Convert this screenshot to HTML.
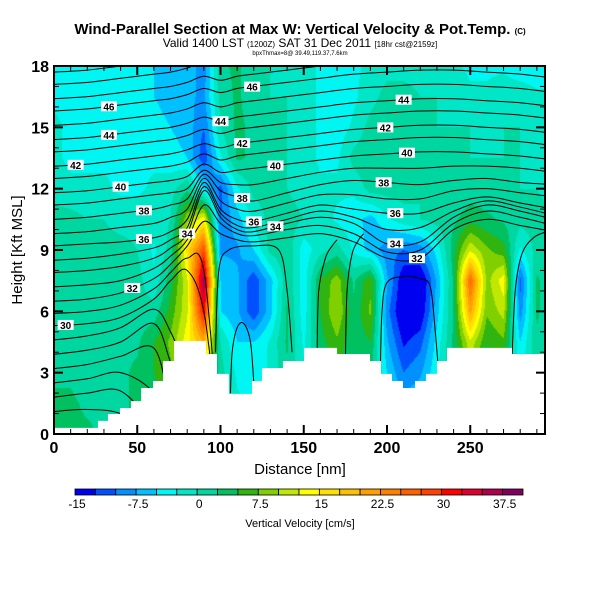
<!DOCTYPE html>
<html><head><meta charset="utf-8"><style>
body{margin:0;background:#fff;width:600px;height:600px;overflow:hidden;font-family:"Liberation Sans",sans-serif}
#wrap{position:relative;width:600px;height:600px}
canvas{position:absolute;left:54px;top:66px}
svg{position:absolute;left:0;top:0}
</style></head><body><div id="wrap">
<canvas id="field" width="491" height="368"></canvas>
<svg id="svg" width="600" height="600">
<text x="300" y="34" text-anchor="middle" font-size="15" font-weight="bold">Wind-Parallel Section at Max W: Vertical Velocity &amp; Pot.Temp. <tspan font-size="8">(C)</tspan></text>
<text x="300" y="47" text-anchor="middle" font-size="12">Valid 1400 LST <tspan font-size="8">(1200Z)</tspan> SAT 31 Dec 2011 <tspan font-size="8">[18hr cst@2159z]</tspan></text>
<text x="300" y="55" text-anchor="middle" font-size="6">bpxThmax=8@ 39.49,119.37,7.6km</text>
<text x="300" y="474" text-anchor="middle" font-size="15">Distance [nm]</text>
<text transform="translate(22,250) rotate(-90)" text-anchor="middle" font-size="15">Height [Kft MSL]</text>
<text x="300" y="527" text-anchor="middle" font-size="11">Vertical Velocity [cm/s]</text>
</svg></div>
<script>
// ---- data ----
const wDist=[0,10,20,30,40,50,60,70,80,90,100,110,120,130,140,150,160,170,180,190,200,210,220,230,240,250,260,270,280,290,300];
const wHeights=[18,16.5,15,13.5,12,10.5,9,7.5,6,4.5,3,1.5,0];
const wRow18 =[-3,-3,-3,-3,-3,-4,-5,-6,-6,-9,2,3,1,0,-1,-1,-3,-4,-3,-2,-1,-1,-1,-1,-2,-3,-3,-3,-4,-4,-4];
const wRow165=[-3,-3,-3,-3,-3,-4,-5,-6,-7,-8,1,3,1,0,0,-1,-3,-4,-3,-1,1,1,0,0,-1,-2,-2,-1,-1,-2,-2];
const wRow15 =[-2,-3,-3,-3,-3,-4,-4,-5,-6,-10,0,3,2,1,0,-1,-3,-4,-2,1,2,2,1,0,0,0,-1,0,0,-1,-1];
const wRow135=[-2,-3,-3,-3,-3,-3,-3,-4,-5,-12,-3,3,2,1,0,-1,-3,-3,1,2,2,1,1,0,0,0,0,0,0,-1,-1];
const wRow12 =[-1,-2,-2,-2,-3,-3,-2,-1,2,-5,-11,-3,1,1,0,-1,-2,-2,-2,1,1,1,0,0,0,1,1,1,0,0,-1];
const wRow105=[1,1,0,0,-1,-1,-1,0,9,14,-10,-6,-2,1,1,0,-1,-3,-4,-6,-3,-1,0,1,2,4,3,2,1,1,0];
const wRow9  =[1,1,1,1,1,0,-3,1,16,28,-8,-8,-5,1,2,-4,-1,1,-3,-6,-9,-10,-9,-4,4,12,8,6,-3,1,0];
const wRow75 =[1,1,1,1,1,1,-2,4,12,38,-5,-7,-12,-6,2,-4,5,9,2,7,-7,-15,-16,-7,3,26,9,14,-11,3,0];
const wRow6  =[1,1,1,1,1,1,1,6,12,32,-5,-7,-12,-6,3,-4,5,10,3,8,-9,-16,-15,-6,3,21,8,11,-9,3,0];
const wRow45 =[1,1,1,1,2,2,5,8,14,20,0,-5,-5,-2,3,-3,4,7,3,5,-7,-13,-11,-4,3,12,5,7,-5,2,0];
const wRow3  =[2,2,1,1,2,3,5,7,10,12,1,-3,-4,-2,2,-2,3,5,2,3,-5,-10,-8,-3,3,8,4,5,-3,1,0];
const wRow15b=[3,3,2,2,2,3,4,6,8,8,2,-2,-3,-1,1,-1,2,3,2,2,-4,-6,-5,-2,2,5,3,3,-2,1,0];
const wRow0  =[3,3,3,2,2,3,4,5,6,6,2,-1,-2,-1,1,-1,1,2,1,1,-2,-4,-3,-1,1,3,2,2,-1,0,0];
const wRows=[wRow18,wRow165,wRow15,wRow135,wRow12,wRow105,wRow9,wRow75,wRow6,wRow45,wRow3,wRow15b,wRow0];

const cbLevels=[-15,-12.5,-10,-7.5,-5,-2.5,0,2.5,5,7.5,10,12.5,15,17.5,20,22.5,25,27.5,30,32.5,35,37.5,40];
const cbColors=["#0000f0","#0050ff","#0090ff","#00c0ff","#00f6f2","#00e6c6","#00d6a0","#00c060","#30b410","#80d000","#c0e800","#ffff00","#ffe000","#ffc000","#ffa000","#ff8000","#ff6000","#ff4000","#ff0000","#e00030","#b00050","#800060"];
const cbTickLabels=["-15","-7.5","0","7.5","15","22.5","30","37.5"];

const terrainDist=[0,26.4,32.4,39.6,46.2,52.3,59.5,65.5,72.1,91.3,97.9,105.1,118.9,124.9,137.5,150.2,170.0,189.8,196.4,203.0,209.6,216.8,223.4,230.0,236.0,275.1];
const terrainHeight=[0.3,0.64,0.98,1.27,1.61,2.25,2.59,3.57,4.55,3.91,2.94,1.96,2.59,3.23,3.57,4.21,3.91,3.57,2.94,2.59,2.25,2.59,2.94,3.57,4.21,3.91];

const thDist=[0,20,40,60,70,80,90,100,110,120,140,160,180,200,220,240,260,280,300];
const thLevels=[49,48,47,46,45,44,43,42,41,40,39,38,37,36,35,34,33,32,31,30,29,28,27,26,25,24];
const th49=[17.7,17.8,18.0,18.2,18.3,18.5,18.8,18.6,18.8,18.9,19.1,19.3,19.5,19.6,19.7,19.7,19.6,19.5,19.3];
const th48=[17.1,17.2,17.4,17.6,17.7,17.9,18.2,18.0,18.2,18.3,18.5,18.7,18.9,19.0,19.1,19.1,19.0,18.9,18.7];
const th47=[16.4,16.5,16.7,16.9,17.0,17.2,17.5,17.3,17.5,17.6,17.8,18.0,18.2,18.3,18.4,18.4,18.3,18.2,18.0];
const th46=[15.8,15.9,16.1,16.3,16.4,16.6,16.9,16.7,16.9,17.0,17.2,17.4,17.6,17.7,17.8,17.8,17.7,17.6,17.4];
const th45=[15.1,15.2,15.4,15.6,15.7,15.9,16.2,16.0,16.2,16.3,16.5,16.7,16.9,17.0,17.1,17.1,17.0,16.9,16.7];
const th44=[14.4,14.5,14.7,14.9,15.0,15.2,15.5,15.3,15.5,15.6,15.8,16.0,16.2,16.3,16.4,16.4,16.3,16.2,16.0];
const th43=[13.8,13.9,14.1,14.3,14.4,14.6,14.9,14.7,14.9,15.0,15.2,15.4,15.6,15.7,15.8,15.8,15.7,15.6,15.4];
const th42=[13.1,13.2,13.4,13.6,13.7,13.9,14.2,14.0,14.2,14.3,14.5,14.7,14.9,15.0,15.1,15.1,15.0,14.9,14.7];
const th41=[12.5,12.6,12.8,13.0,13.1,13.3,13.7,13.4,13.6,13.7,13.9,14.1,14.3,14.4,14.5,14.5,14.4,14.3,14.1];
const th40=[11.8,11.9,12.1,12.3,12.4,12.6,13.2,12.8,12.9,13.0,13.2,13.4,13.6,13.7,13.8,13.8,13.7,13.6,13.4];
const th39=[11.2,11.3,11.5,11.7,11.8,12.0,12.9,12.3,12.2,12.2,12.5,12.8,13.0,13.0,13.0,13.1,13.1,13.0,12.8];
const th38=[10.5,10.6,10.8,11.0,11.2,11.5,12.7,11.9,11.6,11.4,11.8,12.2,12.4,12.3,12.2,12.4,12.5,12.3,12.2];
const th37=[9.8,9.9,10.1,10.3,10.6,11.0,12.5,11.4,11.0,10.9,11.3,11.7,11.7,11.5,11.5,11.9,12.0,11.8,11.6];
const th36=[9.2,9.3,9.4,9.6,9.9,10.5,12.3,11.0,10.5,10.4,10.8,11.2,11.0,10.8,10.8,11.3,11.6,11.3,11.0];
const th35=[8.5,8.6,8.8,9.1,9.5,10.1,12.1,10.8,10.2,10.1,10.5,10.9,10.6,10.0,10.1,10.9,11.4,11.1,10.7];
const th34=[7.9,8.0,8.2,8.6,9.1,9.8,11.9,10.6,10.0,9.9,10.3,10.6,10.3,9.3,9.4,10.6,11.2,10.9,10.5];
const th33=[7.2,7.3,7.5,8.1,8.7,9.5,11.2,10.3,9.8,9.7,10.0,10.2,9.8,8.9,9.0,10.3,10.9,10.6,10.2];
const th32=[6.5,6.6,6.9,7.6,8.3,9.2,10.4,9.8,9.5,9.4,9.6,9.8,9.4,8.6,8.6,10.0,10.5,10.2,9.9];
const th31=[5.9,6.0,6.3,7.1,7.9,8.6,8.0,0,0,0,0,0,0,0,0,0,0,0,0];
const th30=[5.3,5.4,5.7,6.6,7.5,8.0,6.0,0,0,0,0,0,0,0,0,0,0,0,0];
const th29=[4.6,4.8,5.2,6.1,5.0,3.0,1,0,0,0,0,0,0,0,0,0,0,0,0];
const th28=[3.9,4.1,4.5,5.4,3.5,1.0,0,0,0,0,0,0,0,0,0,0,0,0,0];
const th27=[3.2,3.4,3.8,4.2,1.5,0,0,0,0,0,0,0,0,0,0,0,0,0,0];
const th26=[2.5,2.7,3.0,2.0,0,0,0,0,0,0,0,0,0,0,0,0,0,0,0];
const th25=[1.8,2.0,2.1,0.5,0,0,0,0,0,0,0,0,0,0,0,0,0,0,0];
const th24=[1.1,1.2,1.0,0,0,0,0,0,0,0,0,0,0,0,0,0,0,0,0];
const thLines=[th49,th48,th47,th46,th45,th44,th43,th42,th41,th40,th39,th38,th37,th36,th35,th34,th33,th32,th31,th30,th29,th28,th27,th26,th25,th24];
const wallADist=[196,197,200,210,220,226,229,231], wallAHeight=[3,6,7.4,7.7,7.6,7.2,5,3];
const wallBDist=[175,176,179,183,186], wallBHeight=[3.5,7,8.8,9.5,9.8];
const wallCDist=[275,277,281,288,296], wallCHeight=[3.5,7,8.8,9.6,9.9];
const wallDDist=[106,107,110,114,118,120], wallDHeight=[2,4,5.2,5.4,4.5,2.5];
const wallEDist=[97,99,105,120,135,140,143], wallEHeight=[4,8,9.0,9.2,9.0,7,4];
const wallFDist=[158,159,163,167,170], wallFHeight=[4,7,8.6,9.2,9.5];
const wallDists=[wallADist,wallBDist,wallCDist,wallDDist,wallEDist,wallFDist];
const wallHeights=[wallAHeight,wallBHeight,wallCHeight,wallDHeight,wallEHeight,wallFHeight];
const labelTheta=[46,44,42,40,38,36,32,30,34,46,44,42,40,38,36,34,44,42,40,38,36,34,32];
const labelDist =[33,33,13,40,54,54,47,7,80,119,100,113,133,113,120,133,210,199,212,198,205,205,218];

const xTicks=[0,50,100,150,200,250];
const yTicks=[0,3,6,9,12,15,18];

// ---- scales ----
const X0=54,X1=545,Y0=434,Y1=66;
const xs=d=>X0+d*1.665;
const ys=h=>Y0-h*(Y0-Y1)/18;
function colorFor(v){for(let i=0;i<cbColors.length;i++){if(v<cbLevels[i+1])return cbColors[i];}return cbColors[cbColors.length-1];}
function wAt(d,h){
  let fx=d/10, fy=(18-h)/1.5;
  fx=Math.max(0,Math.min(wDist.length-1.0001,fx)); fy=Math.max(0,Math.min(wHeights.length-1.0001,fy));
  const i=Math.floor(fx),j=Math.floor(fy),tx=fx-i,ty=fy-j;
  const a=wRows[j][i],b=wRows[j][i+1],c=wRows[j+1][i],e=wRows[j+1][i+1];
  return (a*(1-tx)+b*tx)*(1-ty)+(c*(1-tx)+e*tx)*ty;
}
const cv=document.getElementById('field'),ctx=cv.getContext('2d');
for(let py=0;py<368;py++){for(let px=0;px<491;px++){
  const d=(px+0.5)/1.665,h=(Y0-(Y1+py+0.5))*18/(Y0-Y1);
  ctx.fillStyle=colorFor(wAt(d,h));ctx.fillRect(px,py,1,1);}}

const NS='http://www.w3.org/2000/svg';
const svg=document.getElementById('svg');
function mk(tag,attrs,parent){const e=document.createElementNS(NS,tag);for(const k in attrs)e.setAttribute(k,attrs[k]);(parent||svg).appendChild(e);return e;}
const defs=mk('defs',{});
const cp=mk('clipPath',{id:'plotclip'},defs);mk('rect',{x:X0,y:Y1,width:X1-X0,height:Y0-Y1},cp);
const g=mk('g',{'clip-path':'url(#plotclip)'});


function interp(arr,d){for(let i=0;i<thDist.length-1;i++){if(d<=thDist[i+1]){const t=(d-thDist[i])/(thDist[i+1]-thDist[i]);return arr[i]*(1-t)+arr[i+1]*t;}}return arr[arr.length-1];}
function smoothPath(pts){
  let p='M'+pts[0][0]+','+pts[0][1];
  for(let i=0;i<pts.length-1;i++){const p0=pts[Math.max(0,i-1)],p1=pts[i],p2=pts[i+1],p3=pts[Math.min(pts.length-1,i+2)];
    p+=' C'+(p1[0]+(p2[0]-p0[0])/6)+','+(p1[1]+(p2[1]-p0[1])/6)+' '+(p2[0]-(p3[0]-p1[0])/6)+','+(p2[1]-(p3[1]-p1[1])/6)+' '+p2[0]+','+p2[1];}
  return p;}
thLines.forEach((arr,k)=>{
  const pts=thDist.map((d,i)=>[xs(d),ys(arr[i])]);
  const el=mk('path',{d:smoothPath(pts),fill:'none',stroke:'#000','stroke-width':'1'},g);
  
  
});
wallDists.forEach((ds,k)=>{
  const pts=ds.map((d,i)=>[xs(d),ys(wallHeights[k][i])]);
  const el=mk('path',{d:smoothPath(pts),fill:'none',stroke:'#000','stroke-width':'1'},g);
  
  
});
let tp='M'+xs(0)+','+(Y0+2);
terrainDist.forEach((d,i)=>{const dn=i<terrainDist.length-1?terrainDist[i+1]:300;tp+=' L'+xs(d)+','+ys(terrainHeight[i])+' L'+xs(dn)+','+ys(terrainHeight[i]);});
tp+=' L'+xs(300)+','+(Y0+2)+' Z';
const terr=mk('path',{d:tp,fill:'#fff',stroke:'none'},g);


labelTheta.forEach((th,i)=>{
  const arr=thLines[thLevels.indexOf(th)];const x=xs(labelDist[i]),y=ys(interp(arr,labelDist[i]));
  const r=mk('rect',{x:x-8,y:y-5,width:16,height:10,fill:'#fff'},g);
  
  
  const t=mk('text',{x:x,y:y+4,'text-anchor':'middle','font-size':'10','font-weight':'bold'},g);t.textContent=th;
  
  
});
const fr=mk('rect',{x:X0,y:Y1,width:X1-X0,height:Y0-Y1,fill:'none',stroke:'#000','stroke-width':'2'});


for(let d=0;d<=290;d+=10){const big=d%50===0,L=big?9:5;
  mk('line',{x1:xs(d),x2:xs(d),y1:Y0,y2:Y0-L,stroke:'#000','stroke-width':big?2:1});
  mk('line',{x1:xs(d),x2:xs(d),y1:Y1,y2:Y1+L,stroke:'#000','stroke-width':big?2:1});}
xTicks.forEach(v=>{const t=mk('text',{x:xs(v),y:Y0+19,'text-anchor':'middle','font-size':'16','font-weight':'bold'});t.textContent=v;
  
  });
for(let h=0;h<=18;h++){const big=h%3===0,L=big?9:5;
  mk('line',{x1:X0,x2:X0+L,y1:ys(h),y2:ys(h),stroke:'#000','stroke-width':big?2:1});
  mk('line',{x1:X1,x2:X1-L,y1:ys(h),y2:ys(h),stroke:'#000','stroke-width':big?2:1});}
yTicks.forEach(v=>{const t=mk('text',{x:X0-5,y:ys(v)+6,'text-anchor':'end','font-size':'16','font-weight':'bold'});t.textContent=v;
  
  });
const cbX=75,cbW=448/cbColors.length;
cbColors.forEach((c,i)=>{const r=mk('rect',{x:cbX+i*cbW,y:489,width:cbW,height:6,fill:c,stroke:'#000','stroke-width':'0.8'});
  
  });
cbTickLabels.forEach((s,i)=>{const t=mk('text',{x:cbX+i*3*cbW+2,y:508,'text-anchor':'middle','font-size':'12'});t.textContent=s;
  
  });
</script></body></html>
